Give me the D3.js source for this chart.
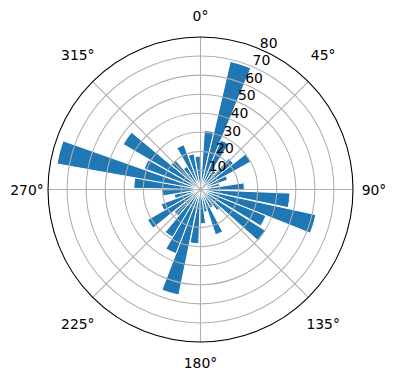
<!DOCTYPE html>
<html>
<head>
<meta charset="utf-8">
<script src="https://cdn.jsdelivr.net/npm/d3@7"></script>
<style>
  html, body { margin: 0; padding: 0; background: #fff; }
  svg { display: block; }
  text { font-family: "DejaVu Sans", sans-serif; fill: #000; }
</style>
</head>
<body>
<svg id="chart" width="396" height="380"></svg>
<script>
// ---- data (angles in degrees, clockwise from north) ----
const barAngles = [8.5, 17.8, 27, 37, 47, 56.5, 66, 76, 86, 97, 107, 116.5, 127, 137, 147, 157, 167, 176,
                   186.5, 196.3, 205.6, 215, 225, 235.5, 245, 255, 265, 275.7, 284.8, 295, 305, 315, 325, 335, 345, 355];
const barValues = [31, 69, 28, 12, 22, 30, 15, 10, 23, 47, 62, 37, 40.5, 14, 11, 25, 12, 18,
                   28.5, 56.5, 36, 29, 18, 32, 22, 14, 20, 35, 76.5, 31.5, 47, 20, 14, 25, 19, 17.5];
const barWidthDeg = 9.4;
const radialTicks = [10, 20, 30, 40, 50, 60, 70, 80];
const angleTicks = [0, 45, 90, 135, 180, 225, 270, 315];
const rMax = 80;

// ---- layout ----
const cx = 200.5, cy = 189.5, R = 152.5;
const svg = d3.select("#chart");
const g = svg.append("g").attr("transform", `translate(${cx},${cy})`);
const r = d3.scaleLinear().domain([0, rMax]).range([0, R]);
const toRad = d => d * Math.PI / 180;

// bars
const arc = d3.arc().innerRadius(0);
g.append("g").selectAll("path")
  .data(barAngles.map((a, i) => ({a, v: barValues[i]})))
  .join("path")
  .attr("d", d => arc({
      outerRadius: r(d.v),
      startAngle: toRad(d.a - barWidthDeg / 2),
      endAngle: toRad(d.a + barWidthDeg / 2)
  }))
  .attr("fill", "#1f77b4")
  .attr("stroke", "#fff")
  .attr("stroke-width", 1);

// grid (above bars, as in matplotlib)
const grid = g.append("g").attr("fill", "none").attr("stroke", "#b0b0b0").attr("stroke-width", 1.1);
grid.selectAll("circle").data(radialTicks.filter(t => t < rMax)).join("circle")
  .attr("r", d => r(d));
grid.selectAll("line").data(angleTicks).join("line")
  .attr("x1", 0).attr("y1", 0)
  .attr("x2", d => r(rMax) * Math.sin(toRad(d)))
  .attr("y2", d => -r(rMax) * Math.cos(toRad(d)));

// outer spine
g.append("circle").attr("r", R).attr("fill", "none").attr("stroke", "#000").attr("stroke-width", 1.1);

// angle labels: text box pushed outward from the spine
const labR = R + 21;
const labY = d => {
  const c = Math.cos(toRad(d));
  return Math.abs(Math.sin(toRad(d))) > 0.5 && Math.abs(c) > 0.5 ? -Math.sign(c) * 134.5 : -labR * c;
};
g.append("g").selectAll("text").data(angleTicks).join("text")
  .attr("x", d => labR * Math.sin(toRad(d)))
  .attr("y", d => labY(d))
  .attr("text-anchor", "middle")
  .attr("dominant-baseline", "central")
  .attr("font-size", "13.9px")
  .text(d => `${d}°`);

// radial labels at 22.5°
const rl = toRad(22.5);
g.append("g").selectAll("text").data(radialTicks).join("text")
  .attr("x", d => r(d) * Math.sin(rl) + 1)
  .attr("y", d => -r(d) * Math.cos(rl) - 1)
  .attr("text-anchor", "start")
  .attr("font-size", "13.9px")
  .text(d => d);
</script>
</body>
</html>
